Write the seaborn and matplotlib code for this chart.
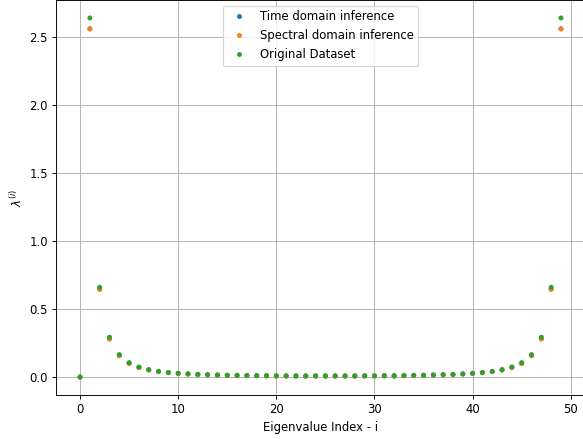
import matplotlib
matplotlib.use("Agg")
import matplotlib.pyplot as plt
import seaborn as sns
import pandas as pd
import numpy as np

index = list(range(50))

original = [0.0, 2.64, 0.66, 0.293, 0.165, 0.106, 0.074, 0.055, 0.042, 0.034,
            0.028, 0.024, 0.020, 0.018, 0.016, 0.014, 0.013, 0.012, 0.011, 0.011,
            0.010, 0.010, 0.010, 0.010, 0.010, 0.010, 0.010, 0.010, 0.010, 0.010,
            0.010, 0.011, 0.011, 0.012, 0.013, 0.014, 0.016, 0.018, 0.020, 0.024,
            0.028, 0.034, 0.042, 0.055, 0.074, 0.106, 0.165, 0.293, 0.66, 2.64]

spectral = [0.0, 2.56, 0.645, 0.280, 0.157, 0.100, 0.070, 0.052, 0.040, 0.032,
            0.026, 0.022, 0.018, 0.016, 0.014, 0.012, 0.011, 0.010, 0.009, 0.008,
            0.007, 0.007, 0.006, 0.006, 0.006, 0.006, 0.006, 0.006, 0.006, 0.007,
            0.007, 0.008, 0.009, 0.010, 0.011, 0.012, 0.014, 0.016, 0.018, 0.022,
            0.026, 0.032, 0.040, 0.052, 0.070, 0.100, 0.157, 0.280, 0.645, 2.56]

time_dom = [0.0, 2.56, 0.646, 0.281, 0.157, 0.100, 0.070, 0.052, 0.040, 0.032,
            0.026, 0.022, 0.018, 0.016, 0.014, 0.012, 0.011, 0.010, 0.009, 0.008,
            0.007, 0.007, 0.006, 0.006, 0.006, 0.006, 0.006, 0.006, 0.006, 0.007,
            0.007, 0.008, 0.006, 0.010, 0.011, 0.012, 0.014, 0.016, 0.018, 0.022,
            0.026, 0.032, 0.040, 0.052, 0.070, 0.100, 0.157, 0.281, 0.646, 2.56]

labels = ["Time domain inference", "Spectral domain inference", "Original Dataset"]

df = pd.DataFrame({
    "i": index * 3,
    "val": time_dom + spectral + original,
    "series": [labels[0]] * 50 + [labels[1]] * 50 + [labels[2]] * 50,
})

DPI = 84
fig = plt.figure(figsize=(583 / DPI, 439 / DPI), dpi=DPI)
ax = fig.add_axes([56 / 583, 44 / 439, 529 / 583, 395 / 439])
sns.scatterplot(data=df, x="i", y="val", hue="series", hue_order=labels,
                palette=["#1f77b4", "#ff7f0e", "#2ca02c"], s=18, linewidth=0, ax=ax)
ax.grid(True, color="#b0b0b0", linewidth=0.8)
ax.set_axisbelow(True)
ax.set_xlabel("Eigenvalue Index - i")
ax.set_ylabel(r"$\lambda^{(i)}$")
ax.set_xticks([0, 10, 20, 30, 40, 50])
ax.set_yticks([0.0, 0.5, 1.0, 1.5, 2.0, 2.5])
ax.set_xlim(-2.45, 51.45)
ax.set_ylim(-0.132, 2.772)
ax.legend(title=None, loc="upper center", markerscale=1.0)
fig.savefig("out.png", dpi=DPI)
